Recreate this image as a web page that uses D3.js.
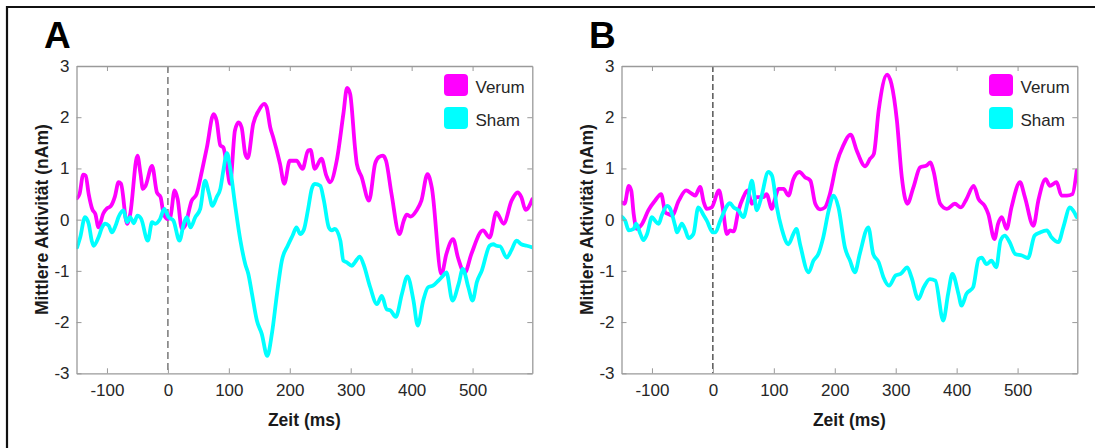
<!DOCTYPE html>
<html>
<head>
<meta charset="utf-8">
<script src="https://cdn.jsdelivr.net/npm/d3@7"></script>
<style>
  body { margin: 0; background: #fff; }
  svg text { font-family: "Liberation Sans", Arial, sans-serif; }
</style>
</head>
<body>
<div id="chart"></div>
<script>
// MEG source activity, Verum vs Sham (panels A and B)
const xDomain = [-150, 598];
const yDomain = [-3, 3];
const xTicks = [-100, 0, 100, 200, 300, 400, 500];
const yTicks = [-3, -2, -1, 0, 1, 2, 3];
const seriesNames = ["Verum", "Sham"];
const seriesColors = ["#ff00ff", "#00ffff"];
const panelLabels = ["A", "B"];

// Panel A
const timeVerumA = [-149,-145,-139,-135,-130,-124,-119,-114,-106,-100,-94,-87,-81,-77,-67,-62,-50,-45,-41,-37,-26,-18,-12,-7,0,4,11,16,23,28,39,47,56,64,75,80,86,91,97,102,110,116,121,127,131,140,149,158,162,168,173,184,191,200,211,221,230,234,241,252,260,266,277,288,294,299,307,310,318,330,340,346,353,358,367,380,387,392,398,408,416,426,433,449,457,468,476,487,498,517,528,539,551,564,574,580,587,598];
const verumA = [0.42,0.5,0.88,0.86,0.5,0.2,0.11,-0.15,0.12,0.22,0.26,0.45,0.73,0.7,-0.08,0.1,1.25,0.9,0.6,0.65,1.05,0.53,0.44,0.11,0.01,0.05,0.57,0.4,-0.18,-0.12,0.37,0.5,0.96,1.41,2.06,1.93,1.45,1.41,1.02,0.7,1.74,1.9,1.8,1.28,1.2,1.87,2.13,2.26,2.2,1.8,1.6,1.09,0.7,1.15,1.15,0.99,1.35,1.36,0.99,1.19,0.86,0.73,1.15,2.07,2.57,2.46,1.41,1.09,0.83,0.37,1.09,1.22,1.25,1.15,0.5,-0.28,-0.02,0.1,0.06,0.18,0.37,0.89,0.63,-1.06,-0.67,-0.38,-0.74,-1.04,-0.67,-0.21,-0.35,0.14,-0.08,0.37,0.53,0.44,0.19,0.4];

const timeShamA = [-149,-144,-136,-130,-125,-122,-114,-108,-103,-97,-92,-86,-81,-73,-67,-62,-56,-50,-44,-33,-26,-21,-13,-6,1,9,19,26,31,37,45,53,61,67,73,80,86,91,97,102,110,119,127,132,138,146,154,163,171,179,187,197,205,211,217,223,230,236,241,250,256,264,269,274,283,288,293,302,307,315,321,332,343,351,359,365,374,384,393,403,410,419,427,435,444,452,457,467,477,484,493,500,507,515,528,534,539,545,556,564,572,580,589,598];
const shamA = [-0.54,-0.35,0.05,-0.08,-0.41,-0.51,-0.35,-0.15,-0.08,-0.12,-0.25,-0.12,0.05,0.18,-0.05,0.05,-0.07,0.08,0.02,-0.41,-0.05,-0.08,0.01,0.21,0.05,-0.02,-0.41,-0.08,0.05,-0.15,0.05,0.21,0.76,0.53,0.27,0.44,0.6,0.96,1.3,1.02,0.31,-0.41,-0.87,-1.06,-1.45,-1.97,-2.23,-2.66,-2.2,-1.45,-0.8,-0.5,-0.3,-0.15,-0.28,-0.2,0.2,0.6,0.7,0.66,0.37,-0.15,-0.21,-0.18,-0.41,-0.8,-0.83,-0.9,-0.83,-0.72,-0.87,-1.32,-1.65,-1.49,-1.75,-1.77,-1.9,-1.45,-1.11,-1.58,-2.07,-1.58,-1.32,-1.29,-1.19,-1.09,-1.03,-1.58,-1.26,-0.96,-1.32,-1.58,-1.22,-1.0,-0.51,-0.48,-0.51,-0.52,-0.74,-0.59,-0.41,-0.48,-0.51,-0.54];

// Panel B
const timeVerumB = [-150,-145,-138,-134,-130,-125,-116,-106,-95,-85,-78,-73,-67,-56,-44,-34,-29,-21,-15,-10,-2,10,16,23,28,34,42,50,57,64,72,83,88,97,101,108,116,124,132,142,151,160,168,176,184,192,203,214,226,236,250,258,264,272,286,293,302,310,319,329,340,351,357,362,373,384,397,407,416,428,436,446,452,462,468,474,482,490,504,512,526,534,546,553,564,572,581,590,597];
const verumB = [0.34,0.31,0.66,0.57,0.11,-0.18,-0.08,0.18,0.37,0.5,0.14,0.11,0.08,0.37,0.57,0.5,0.47,0.64,0.34,0.21,0.24,0.57,0.24,-0.28,-0.21,-0.23,0.18,0.44,0.57,0.31,0.44,0.44,0.5,0.21,0.37,0.6,0.6,0.47,0.79,0.93,0.83,0.76,0.31,0.2,0.24,0.5,1.1,1.45,1.66,1.35,1.04,1.19,1.28,2.13,2.83,2.65,1.93,0.83,0.31,0.63,1.02,1.06,1.12,0.95,0.31,0.21,0.31,0.24,0.4,0.66,0.4,0.27,0.11,-0.38,-0.08,0.05,-0.18,0.24,0.73,0.44,-0.12,0.37,0.79,0.66,0.73,0.47,0.47,0.5,0.96];

const timeShamB = [-150,-144,-138,-130,-126,-119,-114,-108,-100,-95,-89,-84,-75,-70,-62,-59,-51,-45,-40,-32,-24,-15,-10,0,4,12,28,34,42,50,57,64,72,78,91,97,105,113,124,132,137,143,157,165,173,181,190,198,206,217,225,233,241,255,263,272,280,289,300,308,319,326,337,346,356,365,378,386,393,403,408,416,427,436,441,449,457,465,472,479,487,496,507,517,528,537,548,556,567,575,586,591,597];
const shamB = [0.06,-0.02,-0.21,-0.18,-0.08,-0.28,-0.4,-0.28,0.05,-0.02,-0.08,0.08,0.27,0.21,-0.12,-0.25,-0.08,-0.21,-0.36,-0.28,0.24,0.08,-0.02,-0.25,-0.25,-0.02,0.32,0.24,0.18,0.05,0.35,0.76,0.18,0.37,0.93,0.86,0.24,-0.18,-0.48,-0.28,-0.18,-0.48,-1.03,-0.8,-0.67,-0.35,0.18,0.47,0.24,-0.56,-0.8,-1.03,-0.67,-0.15,-0.67,-0.83,-1.13,-1.29,-1.09,-1.06,-0.93,-1.13,-1.55,-1.32,-1.16,-1.19,-1.97,-1.45,-1.06,-1.45,-1.68,-1.45,-1.32,-0.77,-0.74,-0.87,-0.8,-0.93,-0.41,-0.31,-0.44,-0.67,-0.7,-0.75,-0.31,-0.25,-0.21,-0.35,-0.44,-0.15,0.24,0.18,0.05];

const panels = [
    { label: panelLabels[0], offset: 0, zeroLine: { color: "#6e6e6e", width: 1.4, dash: "7,4" },
      series: [ { t: timeVerumA, v: verumA }, { t: timeShamA, v: shamA } ] },
    { label: panelLabels[1], offset: 545, zeroLine: { color: "#000", width: 1, dash: "6,3" },
      series: [ { t: timeVerumB, v: verumB }, { t: timeShamB, v: shamB } ] }
];

const W = 1095, H = 448;
const plot = { left: 76.5, top: 66, width: 455.8, height: 307.3 };

const svg = d3.select("#chart").append("svg")
    .attr("width", W)
    .attr("height", H);

// outer frame (top + left visible)
svg.append("path")
    .attr("d", `M7,${H} L7,7 L${W},7`)
    .attr("fill", "none")
    .attr("stroke", "#111")
    .attr("stroke-width", 2.2);

const x = d3.scaleLinear().domain(xDomain).range([0, plot.width]);
const y = d3.scaleLinear().domain(yDomain).range([plot.height, 0]);

// plain hyphen-minus, integer labels (MATLAB style)
const fmt = d => String(d);

panels.forEach((p, pi) => {
    const g = svg.append("g")
        .attr("transform", `translate(${plot.left + p.offset},${plot.top})`);

    // panel letter
    svg.append("text")
        .attr("x", 44 + p.offset)
        .attr("y", 48)
        .attr("font-size", 37)
        .attr("font-weight", "bold")
        .attr("fill", "#000")
        .text(p.label);

    const clipId = "clip" + pi;
    g.append("clipPath").attr("id", clipId)
        .append("rect")
        .attr("width", plot.width)
        .attr("height", plot.height);

    // zero line
    g.append("line")
        .attr("x1", x(0)).attr("x2", x(0))
        .attr("y1", 0).attr("y2", plot.height)
        .attr("stroke", p.zeroLine.color)
        .attr("stroke-width", p.zeroLine.width)
        .attr("stroke-dasharray", p.zeroLine.dash);

    // curves
    const line = d3.line()
        .x(d => x(d[0]))
        .y(d => y(d[1]))
        .curve(d3.curveMonotoneX);

    p.series.forEach((s, si) => {
        const pts = s.t.map((t, i) => [t, s.v[i]]);
        g.append("path")
            .datum(pts)
            .attr("clip-path", `url(#${clipId})`)
            .attr("fill", "none")
            .attr("stroke", seriesColors[si])
            .attr("stroke-width", 3.8)
            .attr("stroke-linejoin", "round")
            .attr("stroke-linecap", "round")
            .attr("d", line);
    });

    // axes: box with inward ticks on all sides
    const axisColor = "#9a9a9a";
    const tickLen = 5;
    const styleAxis = (sel) => {
        sel.select(".domain").attr("stroke", axisColor);
        sel.selectAll(".tick line").attr("stroke", axisColor);
        sel.selectAll(".tick text")
            .attr("fill", "#262626")
            .attr("font-size", 17)
            .attr("font-family", "'Liberation Sans', Arial, sans-serif");
    };

    g.append("g")
        .attr("transform", `translate(0,${plot.height})`)
        .call(d3.axisBottom(x).tickValues(xTicks).tickFormat(fmt).tickSizeInner(-tickLen).tickSizeOuter(0).tickPadding(11))
        .call(styleAxis);
    g.append("g")
        .call(d3.axisTop(x).tickValues(xTicks).tickSizeInner(-tickLen).tickSizeOuter(0).tickFormat(""))
        .call(styleAxis);
    g.append("g")
        .call(d3.axisLeft(y).tickValues(yTicks).tickFormat(fmt).tickSizeInner(-tickLen).tickSizeOuter(0).tickPadding(7))
        .call(styleAxis);
    g.append("g")
        .attr("transform", `translate(${plot.width},0)`)
        .call(d3.axisRight(y).tickValues(yTicks).tickSizeInner(-tickLen).tickSizeOuter(0).tickFormat(""))
        .call(styleAxis);

    g.selectAll(".domain").attr("stroke-width", 1.3);

    // axis titles
    g.append("text")
        .attr("x", plot.width / 2)
        .attr("y", 360)
        .attr("text-anchor", "middle")
        .attr("font-size", 17.5)
        .attr("font-weight", "bold")
        .attr("fill", "#1a1a1a")
        .text("Zeit (ms)");

    g.append("text")
        .attr("transform", `translate(${-35},${plot.height / 2}) rotate(-90)`)
        .attr("text-anchor", "middle")
        .attr("dominant-baseline", "central")
        .attr("font-size", 17.5)
        .attr("font-weight", "bold")
        .attr("fill", "#1a1a1a")
        .text("Mittlere Aktivität (nAm)");

    // legend
    const legend = g.append("g").attr("transform", "translate(367.5,8)");
    seriesNames.forEach((name, i) => {
        legend.append("rect")
            .attr("x", 0)
            .attr("y", i * 33)
            .attr("width", 24)
            .attr("height", 22)
            .attr("rx", 4)
            .attr("fill", seriesColors[i]);
        legend.append("text")
            .attr("x", 31.5)
            .attr("y", i * 33 + 18.5)
            .attr("font-size", 17)
            .attr("fill", "#262626")
            .text(name);
    });
});
</script>
</body>
</html>
